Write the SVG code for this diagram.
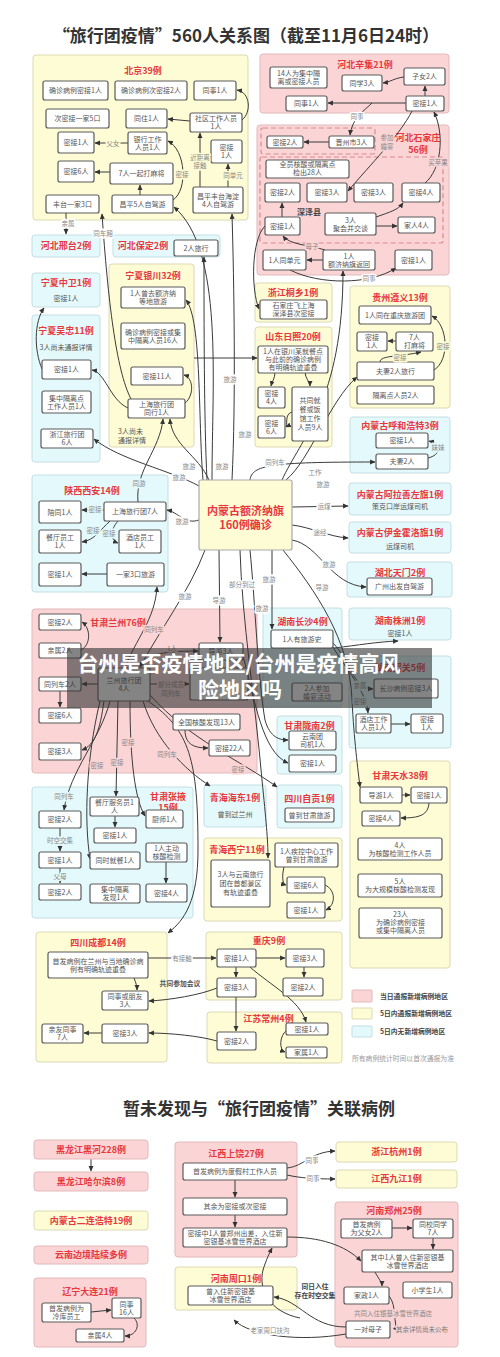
<svg xmlns="http://www.w3.org/2000/svg" width="500" height="1357" viewBox="0 0 500 1357">
<defs>
<marker id="a" viewBox="0 0 10 10" refX="9" refY="5" markerWidth="5.5" markerHeight="5.5" orient="auto"><path d="M0,0.5 L10,5 L0,9.5 z" fill="#333"/></marker>
<style>
text{font-family:"Noto Sans CJK SC","Noto Sans",sans-serif}
.n{fill:#fff;stroke:#5a5a5a;stroke-width:1.2}
.pk{fill:#fbd5d6;stroke:#e2b9bb}
.yl{fill:#fdfcd5;stroke:#dcdab4}
.bl{fill:#e4f9fb;stroke:#c4dfe2}
.ds{fill:none;stroke:#d88a8e;stroke-width:1.2;stroke-dasharray:5 3}
.t{font-size:7px;fill:#555;text-anchor:middle}
.r{font-size:9px;font-weight:bold;fill:#e8383d;text-anchor:middle}
.c{fill:none;stroke:#3a3a3a;stroke-width:1;marker-end:url(#a)}
.lb{font-size:6.5px;fill:#888;text-anchor:middle;paint-order:stroke;stroke-width:3px;stroke-linejoin:round}
.lw{stroke:#fff}.ly{stroke:#fdfcd5}.lp{stroke:#fbd5d6}.lq{stroke:#e4f9fb}
.dk{font-size:8px;font-weight:bold;fill:#444;text-anchor:middle}
.lg{font-size:6.8px;font-weight:bold;fill:#444}
</style>
</defs>
<rect width="500" height="1357" fill="#fff"/>
<text x="246" y="42" font-size="17" font-weight="bold" fill="#333" text-anchor="middle">“旅行团疫情”560人关系图（截至11月6日24时）</text>

<g id="regions">
<g id="r-bj"><rect class="yl" x="33" y="55" width="215" height="165" rx="3"/><text class="r" x="143" y="74">北京39例</text></g>
<g id="r-xj"><rect class="pk" x="260" y="54" width="189" height="59" rx="3"/><text class="r" x="365" y="68">河北辛集21例</text></g>
<g id="r-sjz"><rect class="pk" x="257" y="125" width="192" height="150" rx="3"/><rect class="ds" x="261" y="128" width="114" height="26" rx="2"/><rect class="ds" x="260" y="157" width="183" height="86" rx="2"/><text class="r" x="418" y="141">河北石家庄</text><text class="r" x="418" y="153">56例</text><text class="dk" x="309" y="215">深泽县</text></g>
<g id="r-xt"><rect class="bl" x="32" y="235" width="68" height="22" rx="3"/><text class="r" x="66" y="249">河北邢台2例</text></g>
<g id="r-bd"><rect class="bl" x="113" y="235" width="107" height="22" rx="3"/><text class="r" x="143" y="249">河北保定2例</text></g>
<g id="r-zw"><rect class="bl" x="32" y="273" width="68" height="34" rx="3"/><text class="r" x="66" y="286">宁夏中卫1例</text><text class="t" x="66" y="301">密接1人</text></g>
<g id="r-wz"><rect class="bl" x="32" y="315" width="68" height="147" rx="3"/><text class="r" x="66" y="334">宁夏吴忠11例</text><text class="t" x="66" y="350">3人尚未通报详情</text></g>
<g id="r-yc"><rect class="yl" x="109" y="264" width="85" height="183" rx="3"/><text class="r" x="153" y="279">宁夏银川32例</text><text class="t" x="118" y="434" style="text-anchor:start">3人尚未</text><text class="t" x="118" y="443" style="text-anchor:start">通报详情</text></g>
<g id="r-tx"><rect class="yl" x="255" y="283" width="77" height="39" rx="3"/><text class="r" x="293" y="296">浙江桐乡1例</text></g>
<g id="r-sd"><rect class="yl" x="255" y="327" width="77" height="120" rx="3"/><text class="r" x="293" y="340">山东日照20例</text></g>
<g id="r-gz"><rect class="yl" x="350" y="286" width="100" height="122" rx="3"/><text class="r" x="400" y="301">贵州遵义13例</text></g>
<g id="r-hh"><rect class="bl" x="350" y="417" width="100" height="56" rx="3"/><text class="r" x="400" y="429">内蒙古呼和浩特3例</text></g>
<g id="r-al"><rect class="bl" x="349" y="483" width="102" height="32" rx="3"/><text class="r" x="400" y="497.5">内蒙古阿拉善左旗1例</text><text class="t" x="400" y="508.5">策克口岸运煤司机</text></g>
<g id="r-yj"><rect class="bl" x="349" y="522" width="102" height="31" rx="3"/><text class="r" x="400" y="536">内蒙古伊金霍洛旗1例</text><text class="t" x="400" y="549">运煤司机</text></g>
<g id="r-tm"><rect class="bl" x="347" y="562" width="105" height="35" rx="3"/><text class="r" x="400" y="575.5">湖北天门2例</text></g>
<g id="r-sx"><rect class="bl" x="32" y="475" width="136" height="117" rx="3"/><text class="r" x="92" y="494">陕西西安14例</text></g>
<g id="r-lz"><rect class="pk" x="32" y="609" width="225" height="164" rx="3"/><text class="r" x="118" y="626">甘肃兰州76例</text></g>
<g id="r-cs"><rect class="bl" x="263" y="608" width="79" height="99" rx="3"/><text class="r" x="302.5" y="625">湖南长沙4例</text></g>
<g id="r-zhz"><rect class="bl" x="349" y="608" width="102" height="32" rx="3"/><text class="r" x="400" y="623.5">湖南株洲1例</text><text class="t" x="400" y="636">密接1人</text></g>
<g id="r-sg"><rect class="bl" x="349" y="656" width="102" height="92" rx="3"/><text class="r" x="400" y="671">湖南韶关5例</text></g>
<g id="r-ln"><rect class="bl" x="277" y="716" width="65" height="58" rx="3"/><text class="r" x="309.5" y="729">甘肃陇南2例</text></g>
<g id="r-zg"><rect class="bl" x="277" y="785" width="65" height="43" rx="3"/><text class="r" x="309.5" y="802">四川自贡1例</text></g>
<g id="r-zy"><rect class="bl" x="32" y="787" width="161" height="131" rx="3"/><text class="r" x="168" y="800">甘肃张掖</text><text class="r" x="168" y="811">15例</text></g>
<g id="r-hd"><rect class="bl" x="204" y="785" width="62" height="42" rx="3"/><text class="r" x="235" y="801">青海海东1例</text><text class="t" x="235" y="817">曾到过兰州</text></g>
<g id="r-xn"><rect class="yl" x="204" y="838" width="138" height="83" rx="3"/><text class="r" x="237" y="853">青海西宁11例</text></g>
<g id="r-ts"><rect class="yl" x="350" y="761" width="100" height="207" rx="3"/><text class="r" x="400" y="779">甘肃天水38例</text></g>
<g id="r-cd"><rect class="yl" x="36" y="932" width="131" height="130" rx="3"/><text class="r" x="98" y="946">四川成都14例</text></g>
<g id="r-cq"><rect class="yl" x="206" y="932" width="136" height="68" rx="3"/><text class="r" x="269" y="944">重庆9例</text></g>
<g id="r-js"><rect class="yl" x="207" y="1012" width="135" height="51" rx="3"/><text class="r" x="268.5" y="1022">江苏常州4例</text></g>
</g>

<g id="legend">
<rect class="pk" x="352" y="990" width="20" height="12" rx="1"/><text class="lg" x="380" y="998.5">当日通报新增病例地区</text>
<rect class="yl" x="352" y="1008" width="20" height="11" rx="1"/><text class="lg" x="380" y="1016">5日内通报新增病例地区</text>
<rect class="bl" x="352" y="1026" width="20" height="11" rx="1"/><text class="lg" x="380" y="1034">5日内无新增病例地区</text>
<text x="352" y="1061" font-size="6.8" fill="#999">所有病例统计时间以首次通报为准</text>
</g>

<text x="259" y="1115" font-size="17" font-weight="bold" fill="#333" text-anchor="middle">暂未发现与“旅行团疫情”关联病例</text>

<g id="regions2">
<g id="r-dl"><rect class="pk" x="34" y="1278" width="112" height="69" rx="3"/><text class="r" x="90" y="1295">辽宁大连21例</text></g>
<g id="r-sr"><rect class="pk" x="175" y="1142" width="122" height="115" rx="3"/><text class="r" x="236" y="1157">江西上饶27例</text></g>
<g id="r-zk"><rect class="yl" x="175" y="1267" width="122" height="43" rx="3"/><text class="r" x="236" y="1281.5">河南周口1例</text></g>
<g id="r-zz"><rect class="pk" x="335" y="1202" width="123" height="145" rx="3"/><text class="r" x="394" y="1213.5">河南郑州25例</text></g>
</g>

<g id="connectors">
<path class="c" d="M242,120 C252,112 250,92 237,90"/>
<path class="c" d="M190,121 L168,119"/>
<path class="c" d="M200,187 L200,133"/>
<path class="c" d="M228,187 L228,164"/>
<path class="c" d="M128,143 L95,143"/>
<path class="c" d="M140,195 L140,185"/>
<path class="c" d="M110,172 L95,172"/>
<path class="c" d="M173,200 C188,190 186,150 168,141"/>
<path class="c" d="M66,213 L66,234"/>
<path class="c" d="M131,399 C116,370 108,300 102,214"/>
<path class="c" d="M212,480 C212,380 224,250 174,207"/>
<path class="c" d="M232,480 C236,400 234,280 232,214"/>
<path class="c" d="M207,480 C204,420 204,320 204,257"/>
<path class="c" d="M203,480 C198,420 202,320 186,300"/>
<path class="c" d="M209,480 C198,455 172,445 170,419"/>
<path class="c" d="M138,502 C135,470 160,450 163,419"/>
<path class="c" d="M199,486 C170,470 120,460 94,439"/>
<path class="c" d="M128,408 C110,400 105,372 92,370"/>
<path class="c" d="M42,369 C34,350 34,322 44,308"/>
<path class="c" d="M185,403 C194,396 194,378 184,375"/>
<path class="c" d="M194,358 L257,358"/>
<path class="c" d="M282,480 C300,440 343,400 343,271"/>
<path class="c" d="M286,480 C310,460 330,400 357,377"/>
<path class="c" d="M250,480 C252,465 270,462 375,462"/>
<path class="c" d="M292,507 L348,506"/>
<path class="c" d="M292,525 C310,527 330,537 348,538"/>
<path class="c" d="M292,540 C320,545 330,585 366,587"/>
<path class="c" d="M283,550 C315,590 350,640 352,700 C354,740 358,770 360,787"/>
<path class="c" d="M272,550 L272,629"/>
<path class="c" d="M334,648 C360,645 375,642 398,641"/>
<path class="c" d="M333,643 C350,660 352,688 373,689"/>
<path class="c" d="M333,647 C345,668 366,690 368,713"/>
<path class="c" d="M391,724 L410,724"/>
<path class="c" d="M402,795 L410,795"/>
<path class="c" d="M429,803 C428,815 420,818 401,818"/>
<path class="c" d="M205,550 C190,590 160,630 140,667"/>
<path class="c" d="M125,668 C135,640 155,620 157,587"/>
<path class="c" d="M219,550 L220,642"/>
<path class="c" d="M240,550 C242,620 255,700 262,780 C266,820 268,840 268,858"/>
<path class="c" d="M250,550 C255,600 258,680 265,720 C270,738 280,740 288,740"/>
<path class="c" d="M243,656 C255,700 262,752 288,763"/>
<path class="c" d="M104,701 C100,730 95,745 82,750"/>
<path class="c" d="M110,701 C100,740 70,770 64,810"/>
<path class="c" d="M100,701 C86,760 84,820 90,859"/>
<path class="c" d="M118,701 L116,796"/>
<path class="c" d="M130,701 C130,760 135,800 145,816"/>
<path class="c" d="M143,701 C155,740 185,770 210,786"/>
<path class="c" d="M150,695 C190,740 240,760 277,787"/>
<path class="c" d="M148,701 C190,730 198,760 198,850 C198,900 185,920 168,933"/>
<path class="c" d="M81,650 C91,645 91,628 82,622"/>
<path class="c" d="M98,684 L82,684"/>
<path class="c" d="M60,691 L60,707"/>
<path class="c" d="M150,684 L189,684"/>
<path class="c" d="M140,668 C145,655 160,651 198,651"/>
<path class="c" d="M185,730 C185,745 195,748 208,748"/>
<path class="c" d="M104,510 L82,510"/>
<path class="c" d="M110,521 C100,530 95,540 82,542"/>
<path class="c" d="M118,521 C110,530 110,540 118,543"/>
<path class="c" d="M107,574 L82,574"/>
<path class="c" d="M199,520 C185,525 178,512 167,510"/>
<path class="c" d="M275,372 C275,378 272,382 271,386"/>
<path class="c" d="M305,372 C305,378 310,382 310,386"/>
<path class="c" d="M292,412 C284,414 288,426 286,427"/>
<path class="c" d="M396,341 L388,341"/>
<path class="c" d="M380,362 C380,355 400,357 421,352"/>
<path class="c" d="M434,370 C450,360 448,325 432,316"/>
<path class="c" d="M428,458 C441,455 442,444 429,441"/>
<path class="c" d="M425,96 L425,86"/>
<path class="c" d="M404,77 C395,78 390,82 383,83"/>
<path class="c" d="M406,103 L328,103"/>
<path class="c" d="M372,103 C365,110 352,118 350,135"/>
<path class="c" d="M329,142 L304,142"/>
<path class="c" d="M412,111 C400,135 370,165 348,191"/>
<path class="c" d="M425,183 C441,170 445,135 434,112"/>
<path class="c" d="M376,217 C390,212 398,210 403,203"/>
<path class="c" d="M376,226 L397,226"/>
<path class="c" d="M282,217 L282,203"/>
<path class="c" d="M323,260 L307,260"/>
<path class="c" d="M325,250 C310,245 290,245 283,236"/>
<path class="c" d="M290,270 C320,285 370,285 396,268"/>
<path class="c" d="M265,226 C251,240 251,290 259,309"/>
<path class="c" d="M284,867 C282,875 282,884 286,885"/>
<path class="c" d="M325,885 C336,890 336,905 326,910"/>
<path class="c" d="M60,828 L60,851"/>
<path class="c" d="M60,868 L60,883"/>
<path class="c" d="M115,816 L115,827"/>
<path class="c" d="M166,862 L166,883"/>
<path class="c" d="M148,958 L216,958"/>
<path class="c" d="M134,978 C136,983 137,986 137,990"/>
<path class="c" d="M217,988 C200,995 170,1000 149,1001"/>
<path class="c" d="M102,1033 L84,1033"/>
<path class="c" d="M217,1041 C200,1036 170,1033 149,1033"/>
<path class="c" d="M236,967 L236,977"/>
<path class="c" d="M236,997 L236,1031"/>
<path class="c" d="M256,958 L285,958"/>
<path class="c" d="M304,967 L304,977"/>
<path class="c" d="M250,967 C270,985 300,1000 306,1022"/>
<path class="c" d="M287,1030 C279,1036 279,1050 285,1052"/>
<path class="c" d="M91,1159 L91,1171"/>
<path class="c" d="M287,1168 C305,1166 310,1152 335,1151"/>
<path class="c" d="M287,1175 C300,1178 315,1179 335,1179"/>
<path class="c" d="M235,1180 L235,1197"/>
<path class="c" d="M235,1215 L235,1227"/>
<path class="c" d="M287,1237 C320,1237 345,1245 361,1261"/>
<path class="c" d="M392,1228 L412,1228"/>
<path class="c" d="M433,1238 L433,1249"/>
<path class="c" d="M375,1272 C378,1278 382,1282 382,1286"/>
<path class="c" d="M389,1296 C397,1305 393,1325 398,1331"/>
<path class="c" d="M346,1327 C310,1327 300,1300 274,1297"/>
<path class="c" d="M346,1334 C300,1342 250,1336 234,1320"/>
<path class="c" d="M300,1318 C270,1312 258,1290 263,1270 C266,1260 270,1252 272,1248"/>
<path class="c" d="M91,1312 L111,1310"/>
<path class="c" d="M134,1318 C141,1325 136,1336 125,1336"/>
</g>

<g id="bj1"><rect class="n" x="43" y="81" width="65" height="19" rx="2"/><text class="t" x="75.5" y="93">确诊病例密接1人</text></g>
<g id="bj2"><rect class="n" x="115" y="81" width="72" height="19" rx="2"/><text class="t" x="151" y="93">确诊病例次密接2人</text></g>
<g id="bj3"><rect class="n" x="194" y="81" width="42" height="19" rx="2"/><text class="t" x="215" y="93">同事1人</text></g>
<g id="bj4"><rect class="n" x="46" y="109" width="63" height="19" rx="2"/><text class="t" x="77.5" y="121">次密接一家5口</text></g>
<g id="bj5"><rect class="n" x="126" y="109" width="41" height="19" rx="2"/><text class="t" x="146.5" y="121">同住1人</text></g>
<g id="bj6"><rect class="n" x="190" y="113" width="52" height="19" rx="2"/><text class="t" x="216" y="121">社区工作人员</text><text class="t" x="216" y="129">1人</text></g>
<g id="bj7"><rect class="n" x="58" y="132" width="36" height="21" rx="2"/><text class="t" x="76" y="145">密接1人</text></g>
<g id="bj8"><rect class="n" x="128" y="132" width="39" height="22" rx="2"/><text class="t" x="147.5" y="141.5">银行工作</text><text class="t" x="147.5" y="149.5">人员1人</text></g>
<g id="bj9"><rect class="n" x="211" y="140" width="31" height="23" rx="2"/><text class="t" x="226.5" y="150">密接</text><text class="t" x="226.5" y="158">1人</text></g>
<g id="bj10"><rect class="n" x="58" y="161" width="36" height="21" rx="2"/><text class="t" x="76" y="174">密接6人</text></g>
<g id="bj11"><rect class="n" x="110" y="163" width="63" height="21" rx="2"/><text class="t" x="141.5" y="176">7人一起打麻将</text></g>
<g id="bj12"><rect class="n" x="46" y="195" width="53" height="18" rx="2"/><text class="t" x="72.5" y="206.5">丰台一家3口</text></g>
<g id="bj13"><rect class="n" x="112" y="195" width="61" height="18" rx="2"/><text class="t" x="142.5" y="206.5">昌平5人自驾游</text></g>
<g id="bj14"><rect class="n" x="193" y="187" width="50" height="26" rx="2"/><text class="t" x="218" y="198.5">昌平丰台海淀</text><text class="t" x="218" y="206.5">4人自驾游</text></g>

<g id="xj1"><rect class="n" x="270" y="67" width="57" height="21" rx="2"/><text class="t" x="298.5" y="76">14人为集中隔</text><text class="t" x="298.5" y="84">离或密接人员</text></g>
<g id="xj2"><rect class="n" x="404" y="68" width="41" height="17" rx="2"/><text class="t" x="424.5" y="79">子女2人</text></g>
<g id="xj3"><rect class="n" x="342" y="75" width="40" height="16" rx="2"/><text class="t" x="362" y="85.5">同学3人</text></g>
<g id="xj4"><rect class="n" x="286" y="96" width="41" height="15" rx="2"/><text class="t" x="306.5" y="106">同事1人</text></g>
<g id="xj5"><rect class="n" x="406" y="96" width="38" height="15" rx="2"/><text class="t" x="425" y="106">密接1人</text></g>

<g id="sj1"><rect class="n" x="267" y="136" width="36" height="12" rx="2"/><text class="t" x="285" y="144.5">密接2人</text></g>
<g id="sj2"><rect class="n" x="329" y="136" width="45" height="12" rx="2"/><text class="t" x="351.5" y="144.5">晋州市3人</text></g>
<g id="sj3"><rect class="n" x="266" y="160" width="83" height="18" rx="2"/><text class="t" x="307.5" y="167">全员核酸或隔离点</text><text class="t" x="307.5" y="175">检出28人</text></g>
<g id="sj4"><rect class="n" x="265" y="183" width="35" height="19" rx="2"/><text class="t" x="282.5" y="195">密接2人</text></g>
<g id="sj5"><rect class="n" x="307" y="183" width="40" height="19" rx="2"/><text class="t" x="327" y="195">密接3人</text></g>
<g id="sj6"><rect class="n" x="354" y="183" width="39" height="19" rx="2"/><text class="t" x="373.5" y="195">密接3人</text></g>
<g id="sj7"><rect class="n" x="402" y="183" width="38" height="19" rx="2"/><text class="t" x="421" y="195">密接4人</text></g>
<g id="sj8"><rect class="n" x="325" y="213" width="51" height="22" rx="2"/><text class="t" x="350.5" y="222.5">3人</text><text class="t" x="350.5" y="230.5">聚会并交谈</text></g>
<g id="sj9"><rect class="n" x="398" y="217" width="37" height="16" rx="2"/><text class="t" x="416.5" y="227.5">家人4人</text></g>
<g id="sj10"><rect class="n" x="265" y="217" width="35" height="18" rx="2"/><text class="t" x="282.5" y="228.5">密接1人</text></g>
<g id="sj11"><rect class="n" x="263" y="250" width="43" height="20" rx="2"/><text class="t" x="284.5" y="262.5">1人同单元</text></g>
<g id="sj12"><rect class="n" x="323" y="250" width="52" height="20" rx="2"/><text class="t" x="349" y="258.5">1人</text><text class="t" x="349" y="266.5">额济纳旗返回</text></g>
<g id="sj13"><rect class="n" x="395" y="250" width="37" height="20" rx="2"/><text class="t" x="413.5" y="262.5">密接1人</text></g>

<g id="bd1"><rect class="n" x="174" y="240" width="44" height="16" rx="2"/><text class="t" x="196" y="250.5">2人旅行</text></g>
<g id="wz1"><rect class="n" x="42" y="360" width="49" height="19" rx="2"/><text class="t" x="66.5" y="372">密接1人</text></g>
<g id="wz2"><rect class="n" x="42" y="391" width="49" height="22" rx="2"/><text class="t" x="66.5" y="400.5">集中隔离点</text><text class="t" x="66.5" y="408.5">工作人员1人</text></g>
<g id="wz3"><rect class="n" x="41" y="429" width="52" height="19" rx="2"/><text class="t" x="67" y="437">浙江旅行团</text><text class="t" x="67" y="445">6人</text></g>
<g id="yc1"><rect class="n" x="121" y="287" width="64" height="21" rx="2"/><text class="t" x="153" y="296">1人曾去额济纳</text><text class="t" x="153" y="304">等地旅游</text></g>
<g id="yc2"><rect class="n" x="121" y="323" width="64" height="26" rx="2"/><text class="t" x="153" y="334.5">确诊病例密接或集</text><text class="t" x="153" y="342.5">中隔离人员16人</text></g>
<g id="yc3"><rect class="n" x="131" y="367" width="52" height="18" rx="2"/><text class="t" x="157" y="378.5">密接11人</text></g>
<g id="yc4"><rect class="n" x="128" y="399" width="57" height="19" rx="2"/><text class="t" x="156.5" y="407">上海旅行团</text><text class="t" x="156.5" y="415">同行1人</text></g>

<g id="tx1"><rect class="n" x="260" y="300" width="67" height="19" rx="2"/><text class="t" x="293.5" y="308">石家庄飞上海</text><text class="t" x="293.5" y="316">深泽县次密接</text></g>
<g id="sd1"><rect class="n" x="258" y="346" width="70" height="27" rx="2"/><text class="t" x="293" y="353.5">1人在银川某就餐点</text><text class="t" x="293" y="361.5">与此前的确诊病例</text><text class="t" x="293" y="369.5">有明确轨迹重叠</text></g>
<g id="sd2"><rect class="n" x="258" y="387" width="27" height="21" rx="2"/><text class="t" x="271.5" y="396">密接</text><text class="t" x="271.5" y="404">4人</text></g>
<g id="sd3"><rect class="n" x="292" y="387" width="36" height="54" rx="2"/><text class="t" x="310" y="403">共同就</text><text class="t" x="310" y="412">餐或饭</text><text class="t" x="310" y="421">馆工作</text><text class="t" x="310" y="430">人员9人</text></g>
<g id="sd4"><rect class="n" x="258" y="416" width="27" height="22" rx="2"/><text class="t" x="271.5" y="425.5">密接</text><text class="t" x="271.5" y="433.5">6人</text></g>

<g id="gz1"><rect class="n" x="359" y="306" width="72" height="18" rx="2"/><text class="t" x="395" y="317.5">1人同在重庆旅游团</text></g>
<g id="gz2"><rect class="n" x="357" y="332" width="30" height="19" rx="2"/><text class="t" x="372" y="340">密接</text><text class="t" x="372" y="348">1人</text></g>
<g id="gz3"><rect class="n" x="396" y="332" width="37" height="19" rx="2"/><text class="t" x="414.5" y="340">7人</text><text class="t" x="414.5" y="348">打麻将</text></g>
<g id="gz4"><rect class="n" x="357" y="362" width="77" height="18" rx="2"/><text class="t" x="395.5" y="373.5">夫妻2人旅行</text></g>
<g id="gz5"><rect class="n" x="357" y="386" width="77" height="18" rx="2"/><text class="t" x="395.5" y="397.5">隔离点人员2人</text></g>
<g id="hh1"><rect class="n" x="376" y="433" width="52" height="15" rx="2"/><text class="t" x="402" y="443">密接1人</text></g>
<g id="hh2"><rect class="n" x="376" y="454" width="52" height="15" rx="2"/><text class="t" x="402" y="464">夫妻2人</text></g>

<g id="center"><rect x="199" y="480" width="93" height="70" fill="#fdfcd5" stroke="#aaa" stroke-width="1.2" rx="2"/><text x="245.5" y="515" font-size="11" font-weight="bold" fill="#e8383d" text-anchor="middle">内蒙古额济纳旗</text><text x="245.5" y="529" font-size="11" font-weight="bold" fill="#e8383d" text-anchor="middle">160例确诊</text></g>

<g id="tm1"><rect class="n" x="367" y="578" width="65" height="17" rx="2"/><text class="t" x="399.5" y="589">广州出发自驾游</text></g>
<g id="cs1"><rect class="n" x="271" y="630" width="62" height="18" rx="2"/><text class="t" x="302" y="641.5">1人有旅游史</text></g>
<g id="cs2"><rect class="n" x="292" y="683" width="50" height="18" rx="2"/><text class="t" x="317" y="690.5">2人参加</text><text class="t" x="317" y="698.5">婚宴活动</text></g>
<g id="sg1"><rect class="n" x="374" y="679" width="64" height="19" rx="2"/><text class="t" x="406" y="691">长沙病例密接3人</text></g>
<g id="sg2"><rect class="n" x="356" y="714" width="35" height="19" rx="2"/><text class="t" x="373.5" y="722">酒店工作</text><text class="t" x="373.5" y="730">人员1人</text></g>
<g id="sg3"><rect class="n" x="411" y="714" width="32" height="19" rx="2"/><text class="t" x="427" y="722">密接</text><text class="t" x="427" y="730">1人</text></g>

<g id="sx1"><rect class="n" x="39" y="501" width="42" height="22" rx="2"/><text class="t" x="60" y="514.5">陪同1人</text></g>
<g id="sx2"><rect class="n" x="104" y="502" width="62" height="19" rx="2"/><text class="t" x="135" y="514">上海旅行团7人</text></g>
<g id="sx3"><rect class="n" x="39" y="530" width="42" height="23" rx="2"/><text class="t" x="60" y="540">餐厅员工</text><text class="t" x="60" y="548">1人</text></g>
<g id="sx4"><rect class="n" x="119" y="530" width="42" height="23" rx="2"/><text class="t" x="140" y="540">酒店员工</text><text class="t" x="140" y="548">1人</text></g>
<g id="sx5"><rect class="n" x="39" y="563" width="42" height="23" rx="2"/><text class="t" x="60" y="577">密接1人</text></g>
<g id="sx6"><rect class="n" x="107" y="563" width="57" height="23" rx="2"/><text class="t" x="135.5" y="577">一家3口旅游</text></g>

<g id="lz1"><rect class="n" x="39" y="614" width="42" height="16" rx="2"/><text class="t" x="60" y="624.5">密接2人</text></g>
<g id="lz2"><rect class="n" x="39" y="643" width="42" height="15" rx="2"/><text class="t" x="60" y="653">亲属2人</text></g>
<g id="lz3"><rect class="n" x="39" y="677" width="42" height="14" rx="2"/><text class="t" x="60" y="686.5">同列车2人</text></g>
<g id="lz4"><rect class="n" x="98" y="668" width="52" height="33" rx="2"/><text class="t" x="124" y="683">兰州旅行团</text><text class="t" x="124" y="691">4人</text></g>
<g id="lz5"><rect class="n" x="199" y="643" width="44" height="17" rx="2"/><text class="t" x="221" y="654">导游3人</text></g>
<g id="lz6"><rect class="n" x="190" y="668" width="58" height="32" rx="2"/></g>
<g id="lz7"><rect class="n" x="39" y="708" width="42" height="15" rx="2"/><text class="t" x="60" y="718">密接6人</text></g>
<g id="lz8"><rect class="n" x="173" y="714" width="67" height="16" rx="2"/><text class="t" x="206.5" y="724.5">全国核酸发现13人</text></g>
<g id="lz9"><rect class="n" x="39" y="743" width="42" height="17" rx="2"/><text class="t" x="60" y="754">密接3人</text></g>
<g id="lz10"><rect class="n" x="209" y="740" width="41" height="16" rx="2"/><text class="t" x="229.5" y="750.5">密接22人</text></g>

<g id="zy1"><rect class="n" x="39" y="811" width="42" height="17" rx="2"/><text class="t" x="60" y="822">密接2人</text></g>
<g id="zy2"><rect class="n" x="39" y="852" width="42" height="16" rx="2"/><text class="t" x="60" y="862.5">密接1人</text></g>
<g id="zy3"><rect class="n" x="39" y="884" width="42" height="16" rx="2"/><text class="t" x="60" y="894.5">密接2人</text></g>
<g id="zy4"><rect class="n" x="90" y="797" width="49" height="19" rx="2"/><text class="t" x="114.5" y="805">餐厅服务员1</text><text class="t" x="114.5" y="813">人</text></g>
<g id="zy5"><rect class="n" x="94" y="828" width="42" height="15" rx="2"/><text class="t" x="115" y="838">密接1人</text></g>
<g id="zy6"><rect class="n" x="90" y="852" width="50" height="17" rx="2"/><text class="t" x="115" y="863">同时就餐1人</text></g>
<g id="zy7"><rect class="n" x="90" y="884" width="50" height="19" rx="2"/><text class="t" x="115" y="892">集中隔离</text><text class="t" x="115" y="900">发现1人</text></g>
<g id="zy8"><rect class="n" x="146" y="810" width="37" height="18" rx="2"/><text class="t" x="164.5" y="821.5">厨师1人</text></g>
<g id="zy9"><rect class="n" x="146" y="843" width="41" height="19" rx="2"/><text class="t" x="166.5" y="851">1人主动</text><text class="t" x="166.5" y="859">核酸检测</text></g>
<g id="zy10"><rect class="n" x="146" y="884" width="41" height="18" rx="2"/><text class="t" x="166.5" y="895.5">密接4人</text></g>

<g id="xn1"><rect class="n" x="211" y="860" width="59" height="47" rx="2"/><text class="t" x="240.5" y="877">3人与云南旅行</text><text class="t" x="240.5" y="886">团在首都景区</text><text class="t" x="240.5" y="895">有轨迹重叠</text></g>
<g id="xn2"><rect class="n" x="275" y="843" width="63" height="24" rx="2"/><text class="t" x="306.5" y="853.5">1人疾控中心工作</text><text class="t" x="306.5" y="861.5">曾到甘肃旅游</text></g>
<g id="xn3"><rect class="n" x="287" y="877" width="38" height="16" rx="2"/><text class="t" x="306" y="887.5">密接6人</text></g>
<g id="xn4"><rect class="n" x="287" y="902" width="38" height="16" rx="2"/><text class="t" x="306" y="912.5">密接1人</text></g>
<g id="ln1"><rect class="n" x="289" y="731" width="47" height="19" rx="2"/><text class="t" x="312.5" y="739">云南团</text><text class="t" x="312.5" y="747">司机1人</text></g>
<g id="ln2"><rect class="n" x="289" y="755" width="47" height="17" rx="2"/><text class="t" x="312.5" y="766">密接1人</text></g>
<g id="zg1"><rect class="n" x="285" y="808" width="49" height="14" rx="2"/><text class="t" x="309.5" y="817.5">曾到甘肃旅游</text></g>

<g id="ts1"><rect class="n" x="360" y="787" width="42" height="16" rx="2"/><text class="t" x="381" y="797.5">导游1人</text></g>
<g id="ts2"><rect class="n" x="411" y="787" width="36" height="16" rx="2"/><text class="t" x="429" y="797.5">密接1人</text></g>
<g id="ts3"><rect class="n" x="362" y="811" width="38" height="15" rx="2"/><text class="t" x="381" y="821">密接4人</text></g>
<g id="ts4"><rect class="n" x="358" y="838" width="84" height="22" rx="2"/><text class="t" x="400" y="847.5">4人</text><text class="t" x="400" y="855.5">为核酸检测工作人员</text></g>
<g id="ts5"><rect class="n" x="358" y="874" width="84" height="23" rx="2"/><text class="t" x="400" y="884">5人</text><text class="t" x="400" y="892">为大规模核酸检测发现</text></g>
<g id="ts6"><rect class="n" x="359" y="908" width="83" height="30" rx="2"/><text class="t" x="400.5" y="917">23人</text><text class="t" x="400.5" y="925">为确诊病例密接</text><text class="t" x="400.5" y="933">或集中隔离人员</text></g>

<g id="cd1"><rect class="n" x="48" y="952" width="100" height="26" rx="2"/><text class="t" x="98" y="963.5">首发病例在兰州与当地确诊病</text><text class="t" x="98" y="971.5">例有明确轨迹重叠</text></g>
<g id="cd2"><rect class="n" x="102" y="991" width="46" height="19" rx="2"/><text class="t" x="125" y="999">同事或朋友</text><text class="t" x="125" y="1007">3人</text></g>
<g id="cd3"><rect class="n" x="42" y="1024" width="41" height="19" rx="2"/><text class="t" x="62.5" y="1032">亲友同事</text><text class="t" x="62.5" y="1040">7人</text></g>
<g id="cd4"><rect class="n" x="102" y="1024" width="46" height="19" rx="2"/><text class="t" x="125" y="1036">密接3人</text></g>
<g id="cq1"><rect class="n" x="217" y="949" width="39" height="18" rx="2"/><text class="t" x="236.5" y="960.5">密接1人</text></g>
<g id="cq2"><rect class="n" x="217" y="978" width="39" height="19" rx="2"/><text class="t" x="236.5" y="990">密接3人</text></g>
<g id="cq3"><rect class="n" x="286" y="949" width="38" height="18" rx="2"/><text class="t" x="305" y="960.5">密接3人</text></g>
<g id="cq4"><rect class="n" x="283" y="978" width="40" height="18" rx="2"/><text class="t" x="303" y="989.5">密接2人</text></g>
<g id="js1"><rect class="n" x="217" y="1032" width="39" height="18" rx="2"/><text class="t" x="236.5" y="1043.5">密接2人</text></g>
<g id="js2"><rect class="n" x="286" y="1023" width="42" height="12" rx="2"/><text class="t" x="307" y="1031.5">密接1人</text></g>
<g id="js3"><rect class="n" x="286" y="1047" width="41" height="11" rx="2"/><text class="t" x="306.5" y="1055">家属1人</text></g>

<g id="hlj1"><rect class="pk" x="34" y="1140" width="114" height="19" rx="3"/><text class="r" x="91" y="1152.5">黑龙江黑河228例</text></g>
<g id="hlj2"><rect class="pk" x="34" y="1172" width="114" height="19" rx="3"/><text class="r" x="91" y="1184.5">黑龙江哈尔滨8例</text></g>
<g id="nm2"><rect class="yl" x="34" y="1211" width="114" height="19" rx="3"/><text class="r" x="91" y="1223.5">内蒙古二连浩特19例</text></g>
<g id="yn1"><rect class="pk" x="34" y="1246" width="114" height="18" rx="3"/><text class="r" x="91" y="1258">云南边境陆续多例</text></g>
<g id="hz1"><rect class="yl" x="336" y="1142" width="121" height="20" rx="3"/><text class="r" x="396.5" y="1155">浙江杭州1例</text></g>
<g id="jj1"><rect class="yl" x="336" y="1170" width="121" height="18" rx="3"/><text class="r" x="396.5" y="1182">江西九江1例</text></g>
<g id="dl1"><rect class="n" x="42" y="1303" width="49" height="19" rx="2"/><text class="t" x="66.5" y="1311">首发病例为</text><text class="t" x="66.5" y="1319">冷库员工</text></g>
<g id="dl2"><rect class="n" x="112" y="1298" width="29" height="20" rx="2"/><text class="t" x="126.5" y="1306.5">同事</text><text class="t" x="126.5" y="1314.5">16人</text></g>
<g id="dl3"><rect class="n" x="76" y="1329" width="48" height="13" rx="2"/><text class="t" x="100" y="1338">亲属4人</text></g>
<g id="sr1"><rect class="n" x="183" y="1163" width="104" height="17" rx="2"/><text class="t" x="235" y="1174">首发病例为度假村工作人员</text></g>
<g id="sr2"><rect class="n" x="183" y="1198" width="104" height="17" rx="2"/><text class="t" x="235" y="1209">其余为密接或次密接</text></g>
<g id="sr3"><rect class="n" x="183" y="1228" width="104" height="19" rx="2"/><text class="t" x="235" y="1236">密接中1人曾郑州出差，入住新</text><text class="t" x="235" y="1244">密银基冰雪世界酒店</text></g>
<g id="zk1"><rect class="n" x="188" y="1286" width="85" height="19" rx="2"/><text class="t" x="230.5" y="1294">曾入住新密银基</text><text class="t" x="230.5" y="1302">冰雪世界酒店</text></g>
<g id="zz1"><rect class="n" x="341" y="1219" width="51" height="19" rx="2"/><text class="t" x="366.5" y="1227">首发病例</text><text class="t" x="366.5" y="1235">为父女2人</text></g>
<g id="zz2"><rect class="n" x="413" y="1219" width="40" height="19" rx="2"/><text class="t" x="433" y="1227">同校同学</text><text class="t" x="433" y="1235">7人</text></g>
<g id="zz3"><rect class="n" x="362" y="1250" width="91" height="22" rx="2"/><text class="t" x="407.5" y="1259.5">其中1人曾入住新密银基</text><text class="t" x="407.5" y="1267.5">冰雪世界酒店</text></g>
<g id="zz4"><rect class="n" x="344" y="1287" width="45" height="17" rx="2"/><text class="t" x="366.5" y="1298">家政1人</text></g>
<g id="zz5"><rect class="n" x="403" y="1282" width="49" height="16" rx="2"/><text class="t" x="427.5" y="1292.5">小学生1人</text></g>
<g id="zz6"><rect class="n" x="346" y="1321" width="44" height="17" rx="2"/><text class="t" x="368" y="1332">一对母子</text></g>

<g id="labels">
<text class="lb ly" x="113" y="146">父女</text>
<text class="lb ly" x="200" y="160">近距离</text><text class="lb ly" x="200" y="168">接触</text>
<text class="lb ly" x="233" y="178">同单元</text>
<text class="lb ly" x="182" y="177">密接</text>
<text class="lb lw" x="68" y="226">亲属</text>
<text class="lb lw" x="103" y="236">同车厢</text>
<text class="lb lw" x="357" y="119">同事</text>
<text class="lb lp" x="387" y="140">参加</text><text class="lb lp" x="387" y="149">婚宴</text>
<text class="lb lp" x="438" y="165">买苹果</text>
<text class="lb lp" x="312" y="249">母子</text>
<text class="lb lw" x="369" y="281">同事</text>
<text class="lb ly" x="400" y="360">密接</text>
<text class="lb ly" x="443" y="349">密接</text>
<text class="lb lq" x="438" y="450">妹妹</text>
<text class="lb lw" x="230" y="382">旅游</text>
<text class="lb lw" x="245" y="437">旅游</text>
<text class="lb lw" x="189" y="469">旅游</text>
<text class="lb lw" x="222" y="469">旅游</text>
<text class="lb lw" x="179" y="480">旅游</text>
<text class="lb lw" x="275" y="465">同列车</text>
<text class="lb lw" x="315" y="475">工作</text>
<text class="lb lw" x="323" y="487">旅游</text>
<text class="lb lw" x="324" y="509">运煤</text>
<text class="lb lw" x="320" y="535">途经</text>
<text class="lb lw" x="329" y="567">旅游</text>
<text class="lb lw" x="322" y="590">导游</text>
<text class="lb lw" x="269" y="582">旅游</text>
<text class="lb lq" x="139" y="486">同游</text>
<text class="lb lw" x="182" y="524">旅游</text>
<text class="lb lq" x="95" y="512">密接</text>
<text class="lb lq" x="93" y="533">密接</text>
<text class="lb lq" x="109" y="536">密接</text>
<text class="lb lw" x="185" y="599">旅游</text>
<text class="lb lw" x="219" y="603">导游</text>
<text class="lb lw" x="242" y="587">部分到过</text>
<text class="lb lw" x="262" y="611">旅游</text>
<text class="lb lp" x="154" y="632">同列车</text>
<text class="lb lp" x="172" y="651">1人</text>
<text class="lb lp" x="171" y="687">部分成员</text><text class="lb lp" x="171" y="696">同列车</text>
<text class="lb lq" x="360" y="688">亲属</text>
<text class="lb lq" x="360" y="704">密接</text>
<text class="lb lp" x="128" y="745">密接</text>
<text class="lb lp" x="97" y="768">密接</text>
<text class="lb lp" x="117" y="765">密接</text>
<text class="lb lp" x="167" y="757">同列车</text>
<text class="lb lp" x="238" y="772">密接</text>
<text class="lb lq" x="64" y="799">同列车</text>
<text class="lb lq" x="60" y="843">时空交集</text>
<text class="lb lq" x="60" y="879">父母</text>
<text class="lb lw" x="182" y="961">有接触</text>
<text x="180" y="986" font-size="6.8" font-weight="bold" fill="#555" text-anchor="middle">共同参加会议</text>
<text class="lb lw" x="312" y="1163">同事</text>
<text class="lb lw" x="313" y="1181">同事</text>
<text class="lb lp" x="393" y="1316">共同入住银基冰雪世界酒店</text>
<text class="lb lp" x="422" y="1332" style="fill:#777">其余详情尚未公布</text>
<text x="315" y="1289" font-size="6.8" font-weight="bold" fill="#444" text-anchor="middle">同日入住</text>
<text x="315" y="1298" font-size="6.8" font-weight="bold" fill="#444" text-anchor="middle">存在时空交集</text>
<text class="lb lw" x="270" y="1333">老家周口扶沟</text>
</g>

<g id="banner">
<rect x="67" y="648" width="365" height="60" fill="rgb(50,50,50)" fill-opacity="0.6"/>
<text x="239" y="671" font-size="21" font-weight="bold" fill="#fff" text-anchor="middle">台州是否疫情地区/台州是疫情高风</text>
<text x="240" y="697" font-size="21" font-weight="bold" fill="#fff" text-anchor="middle">险地区吗</text>
</g>
</svg>
